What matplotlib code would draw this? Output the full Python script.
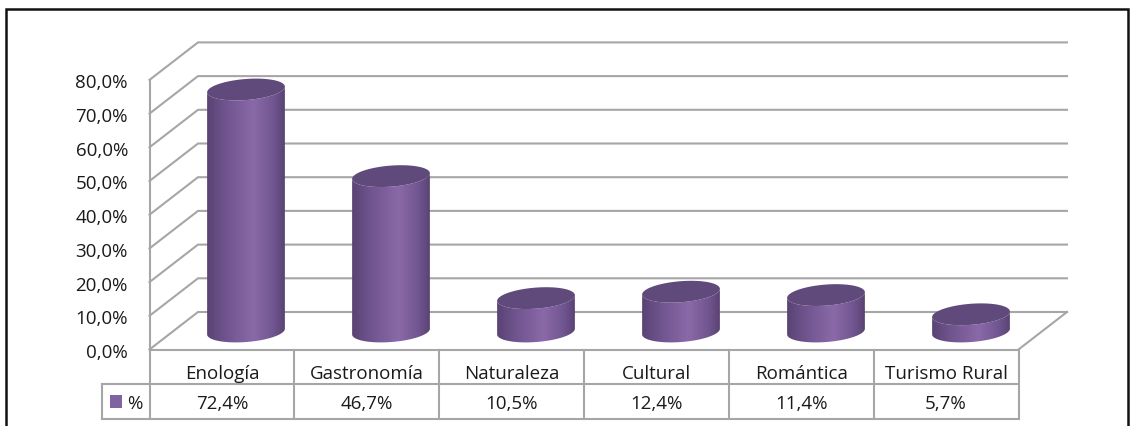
import numpy as np
import matplotlib
matplotlib.use("Agg")
import matplotlib.pyplot as plt
from matplotlib.patches import Polygon, Rectangle
from matplotlib.colors import LinearSegmentedColormap

categories = ["Enología", "Gastronomía", "Naturaleza", "Cultural", "Romántica", "Turismo Rural"]
values = [72.4, 46.7, 10.5, 12.4, 11.4, 5.7]
value_labels = ["72,4%", "46,7%", "10,5%", "12,4%", "11,4%", "5,7%"]
ticks = [0, 10, 20, 30, 40, 50, 60, 70, 80]
tick_labels = ["0,0%", "10,0%", "20,0%", "30,0%", "40,0%", "50,0%", "60,0%", "70,0%", "80,0%"]
series_name = "%"

plt.rcParams['font.family'] = ['Open Sans', 'DejaVu Sans']
W, H = 1135, 427
fig = plt.figure(figsize=(W/100, H/100), dpi=100)
ax = fig.add_axes([0, 0, 1, 1])
ax.set_xlim(0, W); ax.set_ylim(H, 0); ax.axis('off')

GRID = '#a6a6a6'
TXT = '#1a1a1a'
FS = 13.5
x0, x1 = 149.5, 1018.5
y0, scale = 350.5, 3.37
dx, dy = 48.5, 37.5
def Y(v): return y0 - v*scale

# outer frame
ax.plot([6, 6, 1128, 1128], [H, 10, 10, H], color='#111111', lw=1.8, solid_joinstyle='miter', zorder=10)

# walls
for t in ticks:
    ax.plot([x0, x0+dx, x1+dx], [Y(t), Y(t)-dy, Y(t)-dy], color=GRID, lw=1.5, zorder=1)
ax.plot([x0, x0], [Y(0), Y(80)], color=GRID, lw=1.5, zorder=1)
ax.plot([x1, x1+dx], [Y(0), Y(0)-dy], color=GRID, lw=1.5, zorder=1)

for t, lab in zip(ticks, tick_labels):
    ax.text(128, Y(t)+2.5, lab, ha='right', va='center', fontsize=FS, color=TXT)

# table
n = len(categories)
cw = (x1-x0)/n
rows = [351, 385, 420]
ax.plot([x0, x1], [rows[0]]*2, color=GRID, lw=1.5, zorder=1)
ax.plot([102, x1], [rows[1]]*2, color=GRID, lw=1.5, zorder=1)
ax.plot([102, x1], [rows[2]]*2, color=GRID, lw=1.5, zorder=1)
ax.plot([102, 102], [rows[1], rows[2]], color=GRID, lw=1.5, zorder=1)
for i in range(n+1):
    ax.plot([x0+i*cw]*2, [rows[0], rows[2]], color=GRID, lw=1.5, zorder=1)
for i, (c, l) in enumerate(zip(categories, value_labels)):
    xc = x0+(i+.5)*cw
    ax.text(xc, 374, c, ha='center', va='center', fontsize=FS, color=TXT)
    ax.text(xc, 404, l, ha='center', va='center', fontsize=FS, color=TXT)
ax.add_patch(Rectangle((110, 396), 12, 13, fc='#8064a2', ec='none', zorder=3))
ax.text(135, 404, series_name, ha='center', va='center', fontsize=FS, color=TXT)

# cylinders
cmap = LinearSegmentedColormap.from_list('cyl', [(0, '#5a4374'), (0.25, '#70558f'), (0.6, '#8a69a8'), (0.85, '#715691'), (1, '#5a4374')])
grad = np.linspace(0, 1, 128).reshape(1, -1)
rx, ry, tilt = 39.0, 10.5, np.deg2rad(-4.5)
base = 332.5
def ell(cx, cy, t):
    return (cx + rx*np.cos(t)*np.cos(tilt) - ry*np.sin(t)*np.sin(tilt),
            cy + rx*np.cos(t)*np.sin(tilt) + ry*np.sin(t)*np.cos(tilt))
tt = np.linspace(0, 2*np.pi, 200)
for i, v in enumerate(values):
    cx = 246 + i*145
    top = base - v*scale + 2
    tl = np.linspace(0, np.pi, 100)
    bx, by = ell(cx, base, tl)
    ux, uy = ell(cx, top, tl[::-1])
    body = Polygon(np.c_[np.r_[bx, ux], np.r_[by, uy]], closed=True, fc='none', ec='none', zorder=4)
    ax.add_patch(body)
    im = ax.imshow(grad, cmap=cmap, extent=[cx-rx, cx+rx, base+15, top-15], aspect='auto', zorder=4, interpolation='bilinear')
    im.set_clip_path(body)
    ex, ey = ell(cx, top, tt)
    ax.add_patch(Polygon(np.c_[ex, ey], closed=True, fc='#604a7b', ec='none', zorder=5))
ax.set_xlim(0, W); ax.set_ylim(H, 0)
fig.savefig('out.png', dpi=100)
